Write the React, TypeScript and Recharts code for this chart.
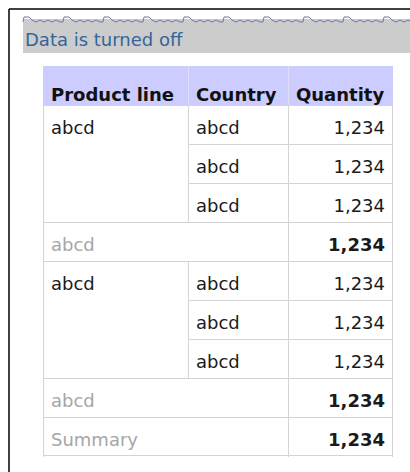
import React from 'react';
import { BarChart, Bar, XAxis, YAxis, Customized } from 'recharts';

const title = 'Data is turned off';
const headers = ['Product line', 'Country', 'Quantity'];
const productLines = ['abcd', 'abcd'];
const countries = [
  ['abcd', 'abcd', 'abcd'],
  ['abcd', 'abcd', 'abcd'],
];
const quantities = [
  [1234, 1234, 1234],
  [1234, 1234, 1234],
];
const subtotalLabels = ['abcd', 'abcd'];
const subtotals = [1234, 1234];
const summaryLabel = 'Summary';
const summaryTotal = 1234;

// layout constants (not data)
const COL_W = [145, 100, 105];
const FONT = '"DejaVu Sans", Verdana, sans-serif';
const BORDER = '#d4d4d4';
const HEADER_BG = '#ccccff';

const fmt = (n: number) => n.toLocaleString('en-US');

type Row = {
  key: string;
  kind: 'header' | 'detail' | 'subtotal' | 'summary';
  w0: number;
  w1: number;
  w2: number;
  texts: string[];
  first?: boolean;
  last?: boolean;
};

const rows: Row[] = [];
rows.push({ key: 'h', kind: 'header', w0: COL_W[0], w1: COL_W[1], w2: COL_W[2], texts: headers });
productLines.forEach((pl, g) => {
  countries[g].forEach((c, i) => {
    rows.push({
      key: `d${g}-${i}`,
      kind: 'detail',
      w0: COL_W[0],
      w1: COL_W[1],
      w2: COL_W[2],
      texts: [i === 0 ? pl : '', c, fmt(quantities[g][i])],
      first: i === 0,
      last: i === countries[g].length - 1,
    });
  });
  rows.push({
    key: `s${g}`,
    kind: 'subtotal',
    w0: COL_W[0] + COL_W[1],
    w1: 0,
    w2: COL_W[2],
    texts: [subtotalLabels[g], '', fmt(subtotals[g])],
  });
});
rows.push({
  key: 'sum',
  kind: 'summary',
  w0: COL_W[0] + COL_W[1],
  w1: 0,
  w2: COL_W[2],
  texts: [summaryLabel, '', fmt(summaryTotal)],
});

const renderCell = (col: number) => (props: any) => {
  const { x, y, width, height, payload, index } = props;
  if (!width) return <g />;
  const row = payload as Row;
  const text = row.texts[col];
  const lastCol = col === 2;
  const lastRow = index === rows.length - 1;
  const L = x + 0.5;
  const R = lastCol ? x + width - 0.5 : x + width + 0.5;
  const T = y + 0.5;
  const B = lastRow ? y + height - 0.5 : y + height + 0.5;

  if (row.kind === 'header') {
    return (
      <g>
        <rect x={x} y={y} width={width} height={height} fill={HEADER_BG} />
        {col > 0 && <line x1={L} x2={L} y1={y} y2={y + height} stroke="#dedef5" />}
        <text x={x + 8} y={y + 35} fontFamily={FONT} fontSize={18} fontWeight="bold" fill="#111">
          {text}
        </text>
      </g>
    );
  }

  const isNum = col === 2;
  const bold = isNum && (row.kind === 'subtotal' || row.kind === 'summary');
  const gray = col === 0 && (row.kind === 'subtotal' || row.kind === 'summary');
  const merged = row.kind === 'detail' && col === 0;

  return (
    <g>
      <rect x={x} y={y} width={width} height={height} fill="#fff" />
      <line x1={L} x2={L} y1={y} y2={y + height + 1} stroke={BORDER} />
      <line x1={R} x2={R} y1={y} y2={y + height + 1} stroke={BORDER} />
      {(!merged || row.first) && <line x1={L} x2={R} y1={T} y2={T} stroke={BORDER} />}
      {(!merged || row.last) && <line x1={L} x2={R} y1={B} y2={B} stroke={BORDER} />}
      {text && (
        <text
          x={isNum ? x + width - 8 : x + 8}
          y={y + 29}
          textAnchor={isNum ? 'end' : 'start'}
          fontFamily={FONT}
          fontSize={18}
          fontWeight={bold ? 'bold' : 'normal'}
          fill={gray ? '#a6a6a6' : '#1a1a1a'}
        >
          {text}
        </text>
      )}
    </g>
  );
};

const Decoration = () => {
  let d = '';
  for (let x0 = 23; x0 < 420; x0 += 40) {
    d += `${d ? 'L' : 'M'}${x0},22 L${x0 + 1},17 L${x0 + 6},17 L${x0 + 9},20 L${x0 + 13},22 L${x0 + 17},20 L${x0 + 21},22 L${x0 + 25},20 L${x0 + 29},22 L${x0 + 33},20 L${x0 + 37},22 `;
  }
  return (
    <g>
      <line x1={9} x2={410} y1={9} y2={9} stroke="#000" strokeWidth={1.5} />
      <line x1={9} x2={9} y1={9} y2={472} stroke="#000" strokeWidth={1.5} />
      <rect x={23} y={19} width={387} height={34} fill="#cccccc" />
      <path d={d} fill="none" stroke="#6f7aa6" strokeWidth={1} />
      <text x={25} y={46} fontFamily={FONT} fontSize={18} fill="#336699">
        {title}
      </text>
    </g>
  );
};

export default function App() {
  return (
    <div style={{ position: 'absolute', left: 0, top: 0, background: '#fff' }}>
      <BarChart
        width={410}
        height={472}
        data={rows}
        layout="vertical"
        margin={{ top: 66, right: 17, bottom: 16, left: 43 }}
        barCategoryGap={0}
      >
        <XAxis type="number" domain={[0, 350]} hide />
        <YAxis type="category" dataKey="key" hide />
        <Customized component={Decoration} />
        <Bar dataKey="w0" stackId="t" isAnimationActive={false} shape={renderCell(0)} />
        <Bar dataKey="w1" stackId="t" isAnimationActive={false} shape={renderCell(1)} />
        <Bar dataKey="w2" stackId="t" isAnimationActive={false} shape={renderCell(2)} />
      </BarChart>
    </div>
  );
}
